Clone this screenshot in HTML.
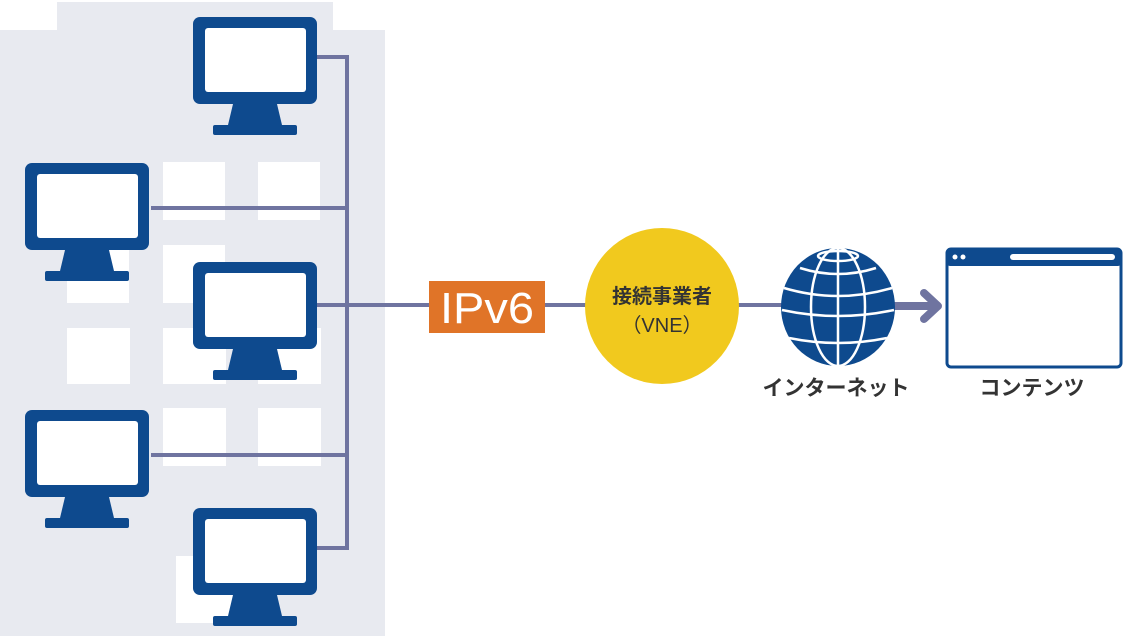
<!DOCTYPE html>
<html><head><meta charset="utf-8"><style>
html,body{margin:0;padding:0;background:#fff;}
svg{display:block}
text{font-family:"Liberation Sans","Noto Sans CJK JP",sans-serif;}
</style></head><body>
<svg width="1124" height="638" viewBox="0 0 1124 638" xmlns="http://www.w3.org/2000/svg">
<defs>
<g id="mon">
  <rect x="0" y="0" width="124" height="87" rx="7" fill="#0e4a8e"/>
  <rect x="12" y="11" width="101" height="64" rx="3" fill="#fff"/>
  <polygon points="40,87 84,87 89,108 35,108" fill="#0e4a8e"/>
  <rect x="20" y="108" width="84" height="10" rx="2" fill="#0e4a8e"/>
</g>
</defs>
<path d="M57,2 H333 V30 H385 V636 H0 V30 H57 Z" fill="#e8eaf0"/>
<g fill="#fff">
  <rect x="163" y="162" width="62" height="58"/>
  <rect x="258" y="162" width="62" height="58"/>
  <rect x="67" y="245" width="62" height="58"/>
  <rect x="163" y="245" width="62" height="58"/>
  <rect x="67" y="328" width="63" height="56"/>
  <rect x="163" y="328" width="63" height="56"/>
  <rect x="258" y="328" width="63" height="56"/>
  <rect x="163" y="408" width="63" height="58"/>
  <rect x="258" y="408" width="63" height="58"/>
  <rect x="176" y="556" width="60" height="67"/>
</g>
<g stroke="#6f74a0" stroke-width="4" fill="none">
  <path d="M317,57 H347 V548 H317"/>
  <path d="M151,208 H347"/>
  <path d="M151,455 H347"/>
  <path d="M317,305 H430"/>
  <path d="M545,305 H590"/>
  <path d="M736,305 H785"/>
</g>
<path d="M893,306 H934" stroke="#6f74a0" stroke-width="8"/>
<path d="M924,293 L938,306 L924,319" stroke="#6f74a0" stroke-width="8" fill="none" stroke-linecap="round" stroke-linejoin="round"/>
<use href="#mon" x="193" y="17"/>
<use href="#mon" x="25" y="163"/>
<use href="#mon" x="193" y="262"/>
<use href="#mon" x="25" y="410"/>
<use href="#mon" x="193" y="508"/>
<rect x="429" y="281" width="116" height="52" fill="#e07428"/>
<text x="487" y="323" font-size="44" fill="#fff" text-anchor="middle" textLength="94" lengthAdjust="spacingAndGlyphs">IPv6</text>
<ellipse cx="662" cy="306" rx="77" ry="78" fill="#f1c91e"/>
<text x="662" y="303" font-size="20" font-weight="bold" fill="#333" text-anchor="middle">接続事業者</text>
<text x="662" y="332" font-size="20" fill="#333" text-anchor="middle">（VNE）</text>
<g>
  <ellipse cx="838" cy="307" rx="57" ry="59" fill="#0e4a8e"/>
  <g stroke="#fff" stroke-width="2.5" fill="none">
    <path d="M838,248 V366"/>
    <ellipse cx="838" cy="307" rx="27" ry="59"/>
    <path d="M784,288 Q838,304 892,288"/>
    <path d="M782,310 Q838,322 894,310"/>
    <path d="M789,338 Q838,348 887,338"/>
    <path d="M800,268 Q838,280 876,268"/>
    <ellipse cx="838" cy="256" rx="20" ry="5"/>
  </g>
</g>
<text x="836" y="395" font-size="21" font-weight="bold" fill="#333" text-anchor="middle">インターネット</text>
<rect x="947" y="249" width="174" height="118" rx="4" fill="#fff" stroke="#0e4a8e" stroke-width="3"/>
<rect x="947" y="249" width="174" height="17" rx="3" fill="#0e4a8e"/>
<circle cx="955" cy="257" r="2.5" fill="#fff"/><circle cx="963" cy="257" r="2.5" fill="#fff"/>
<rect x="1010" y="254" width="105" height="6" rx="3" fill="#fff"/>
<text x="1032" y="395" font-size="21" font-weight="bold" fill="#333" text-anchor="middle">コンテンツ</text>
</svg>
</body></html>
